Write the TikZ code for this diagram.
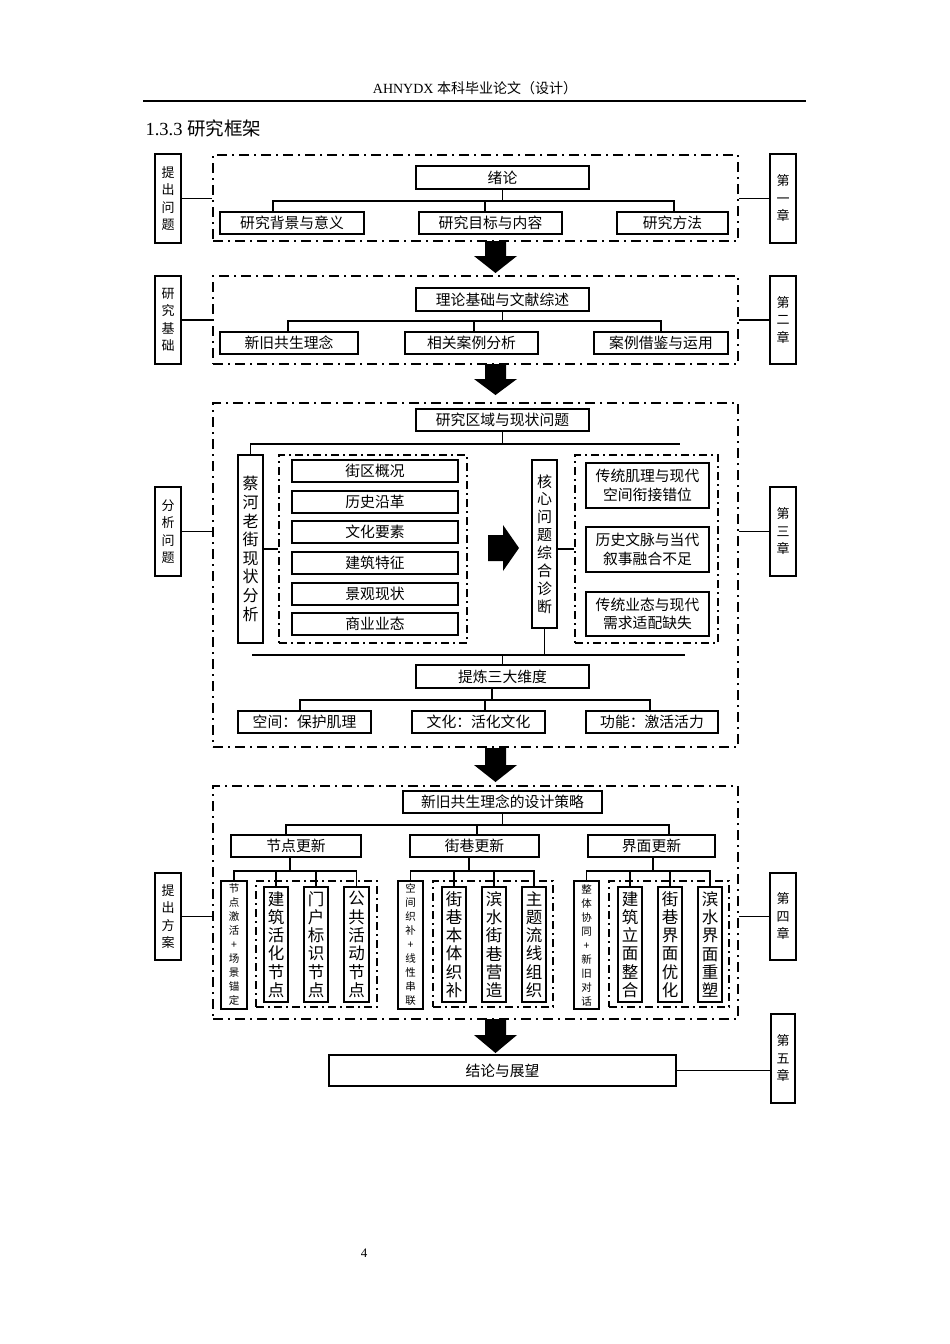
\documentclass[tikz,border=0pt]{standalone}
\usepackage{fontspec}
\setmainfont{Liberation Serif}
\newfontfamily\cjk{Noto Sans CJK SC}
\usetikzlibrary{calc}
\tikzset{
  bx/.style={draw, line width=1.8pt, inner sep=0pt, align=center, font=\cjk\fontsize{14.8}{18.5}\selectfont},
  lab/.style={draw, line width=1.8pt, inner sep=0pt, align=center, font=\cjk\fontsize{13}{17.5}\selectfont},
  vb/.style={draw, line width=1.8pt, inner sep=0pt, align=center, font=\cjk\fontsize{16}{18.6}\selectfont},
  vc/.style={draw, line width=1.8pt, inner sep=0pt, align=center, font=\cjk\fontsize{15}{17.9}\selectfont},
  tv/.style={draw, line width=1.8pt, inner sep=0pt, align=center, font=\cjk\fontsize{16.5}{18.3}\selectfont},
  sv/.style={draw, line width=1.8pt, inner sep=0pt, align=center, font=\cjk\fontsize{10.5}{14}\selectfont},
  dd/.style={draw, line width=1.8pt, inner sep=0pt, dash pattern=on 10pt off 5pt on 2pt off 5pt},
  dd2/.style={draw, line width=1.6pt, inner sep=0pt, dash pattern=on 8pt off 4pt on 2pt off 4pt},
  ln/.style={line width=1.6pt},
}
\newcommand\BX[7][bx]{\node[#1, minimum width={#5pt-#3pt}, minimum height={#6pt-#4pt}] (#2) at ({(#3+#5)/2},{(#4+#6)/2}) {#7};}
\newcommand\DA[3]{\fill (485,#1) -- (506,#1) -- (506,#2) -- (517,#2) -- (495.5,#3) -- (474,#2) -- (485,#2) -- cycle;}
\begin{document}
\begin{tikzpicture}[x=1pt,y=-1pt]
\useasboundingbox (0,0) rectangle (950,1344);
\fill[white] (0,0) rectangle (950,1344);
% header
\node[font=\fontsize{14}{16}\selectfont] (hd) at (475,88) {AHNYDX {\cjk 本科毕业论文（设计）}};
\draw[line width=1.6pt] (143,101) -- (806,101);
\node[anchor=west, font=\fontsize{18.5}{20}\selectfont] (tt) at (142,128) {1.3.3 {\cjk 研究框架}};

% ===== Section 1
\BX[dd]{s1}{213}{155}{738}{241}{}
\BX[lab]{l1}{155}{154}{181}{243}{提\\出\\问\\题}
\BX[lab]{r1}{770}{154}{796}{243}{第\\一\\章}
\BX{a0}{416}{166}{589}{189}{绪论}
\BX{a1}{220}{212}{364}{234}{研究背景与意义}
\BX{a2}{419}{212}{562}{234}{研究目标与内容}
\BX{a3}{617}{212}{728}{234}{研究方法}
\draw[ln] (l1.east) -- (l1.east -| s1.west);
\draw[ln] (s1.east |- r1.west) -- (r1.west);
\coordinate (b1a) at (273,201);
\coordinate (b1m) at (485,201);
\coordinate (b1b) at (674,201);
\draw[ln] (a0.south) -- (a0.south |- b1a);
\draw[ln] (b1a |- a1.north) -- (b1a) -- (b1b) -- (b1b |- a3.north);
\draw[ln] (b1m) -- (b1m |- a2.north);
\DA{241}{256}{273}

% ===== Section 2
\BX[dd]{s2}{213}{276}{738}{364}{}
\BX[lab]{l2}{155}{276}{181}{364}{研\\究\\基\\础}
\BX[lab]{r2}{770}{276}{796}{364}{第\\二\\章}
\BX{b0}{416}{288}{589}{311}{理论基础与文献综述}
\BX{b1}{220}{332}{358}{354}{新旧共生理念}
\BX{b2}{405}{332}{538}{354}{相关案例分析}
\BX{b3}{594}{332}{728}{354}{案例借鉴与运用}
\draw[ln] (l2.east) -- (l2.east -| s2.west);
\draw[ln] (s2.east |- r2.west) -- (r2.west);
\coordinate (b2a) at (288,321);
\coordinate (b2m) at (474,321);
\coordinate (b2b) at (661,321);
\draw[ln] (b0.south) -- (b0.south |- b2a);
\draw[ln] (b2a |- b1.north) -- (b2a) -- (b2b) -- (b2b |- b3.north);
\draw[ln] (b2m) -- (b2m |- b2.north);
\DA{364}{379}{395}

% ===== Section 3
\BX[dd]{s3}{213}{403}{738}{747}{}
\BX[lab]{l3}{155}{487}{181}{576}{分\\析\\问\\题}
\BX[lab]{r3}{770}{487}{796}{576}{第\\三\\章}
\BX{c0}{416}{409}{589}{431}{研究区域与现状问题}
\BX[vb]{cl}{238}{455}{263}{643}{蔡\\河\\老\\街\\现\\状\\分\\析}
\BX[dd2]{ci}{279}{455}{467}{643}{}
\BX{c1}{292}{460}{458}{482}{街区概况}
\BX{c2}{292}{491}{458}{513}{历史沿革}
\BX{c3}{292}{521}{458}{543}{文化要素}
\BX{c4}{292}{552}{458}{574}{建筑特征}
\BX{c5}{292}{583}{458}{605}{景观现状}
\BX{c6}{292}{613}{458}{635}{商业业态}
\BX[vc]{ch}{532}{460}{557}{628}{核\\心\\问\\题\\综\\合\\诊\\断}
\BX[dd2]{cr}{575}{455}{718}{643}{}
\BX{d1}{586}{463}{709}{508}{传统肌理与现代\\空间衔接错位}
\BX{d2}{586}{527}{709}{572}{历史文脉与当代\\叙事融合不足}
\BX{d3}{586}{592}{709}{636}{传统业态与现代\\需求适配缺失}
\BX{c7}{416}{665}{589}{688}{提炼三大维度}
\BX{e1}{238}{711}{371}{733}{空间：保护肌理}
\BX{e2}{412}{711}{545}{733}{文化：活化文化}
\BX{e3}{586}{711}{718}{733}{功能：激活活力}
\draw[ln] (l3.east) -- (l3.east -| s3.west);
\draw[ln] (s3.east |- r3.west) -- (r3.west);
\coordinate (t3b) at (680,444);
\draw[ln] (c0.south) -- (c0.south |- t3b);
\draw[ln] (cl.north) -- (cl.north |- t3b) -- (t3b);
\draw[ln] (cl.east) -- (ci.west);
\draw[ln] (ch.east |- cr.west) -- (cr.west);
\coordinate (u3a) at (252,655);
\coordinate (u3b) at (685,655);
\draw[ln] (ch.south) -- (ch.south |- u3a);
\draw[ln] (u3a) -- (u3b);
\draw[ln] (c7.north) -- (c7.north |- u3a);
\coordinate (v3a) at (300,700);
\coordinate (v3m) at (485,700);
\coordinate (v3b) at (650,700);
\coordinate (v3c) at (492,700);
\draw[ln] (v3c |- c7.south) -- (v3c);
\draw[ln] (v3a |- e1.north) -- (v3a) -- (v3b) -- (v3b |- e3.north);
\draw[ln] (v3m) -- (v3m |- e2.north);
\fill (488,535) -- (503,535) -- (503,525) -- (519,548) -- (503,571) -- (503,561) -- (488,561) -- cycle;
\DA{748}{765}{782}

% ===== Section 4
\BX[dd]{s4}{213}{786}{738}{1019}{}
\BX[lab]{l4}{155}{873}{181}{960}{提\\出\\方\\案}
\BX[lab]{r4}{770}{873}{796}{960}{第\\四\\章}
\BX{f0}{403}{791}{602}{813}{新旧共生理念的设计策略}
\BX{f1}{231}{835}{361}{857}{节点更新}
\BX{f2}{410}{835}{539}{857}{街巷更新}
\BX{f3}{588}{835}{715}{857}{界面更新}
\BX[sv]{g0}{221}{881}{247}{1009}{节\\点\\激\\活\\+\\场\\景\\锚\\定}
\BX[dd2]{gi}{256}{881}{377}{1007}{}
\BX[tv]{g1}{264}{887}{288}{1002}{建\\筑\\活\\化\\节\\点}
\BX[tv]{g2}{304}{887}{328}{1002}{门\\户\\标\\识\\节\\点}
\BX[tv]{g3}{344}{887}{369}{1002}{公\\共\\活\\动\\节\\点}
\BX[sv]{h0}{398}{881}{423}{1009}{空\\间\\织\\补\\+\\线\\性\\串\\联}
\BX[dd2]{hi}{433}{881}{553}{1007}{}
\BX[tv]{h1}{442}{887}{466}{1002}{街\\巷\\本\\体\\织\\补}
\BX[tv]{h2}{482}{887}{506}{1002}{滨\\水\\街\\巷\\营\\造}
\BX[tv]{h3}{522}{887}{546}{1002}{主\\题\\流\\线\\组\\织}
\BX[sv]{k0}{574}{881}{599}{1009}{整\\体\\协\\同\\+\\新\\旧\\对\\话}
\BX[dd2]{ki}{609}{881}{729}{1007}{}
\BX[tv]{k1}{618}{887}{642}{1002}{建\\筑\\立\\面\\整\\合}
\BX[tv]{k2}{658}{887}{682}{1002}{街\\巷\\界\\面\\优\\化}
\BX[tv]{k3}{698}{887}{722}{1002}{滨\\水\\界\\面\\重\\塑}
\draw[ln] (l4.east) -- (l4.east -| s4.west);
\draw[ln] (s4.east |- r4.west) -- (r4.west);
\coordinate (w1) at (286,825);
\coordinate (w2) at (477,825);
\coordinate (w3) at (669,825);
\draw[ln] (f0.south) -- (f0.south |- w1);
\draw[ln] (w1 |- f1.north) -- (w1) -- (w3) -- (w3 |- f3.north);
\draw[ln] (w2) -- (w2 |- f2.north);
\coordinate (x1) at (290,871);
\coordinate (x2) at (469,871);
\coordinate (x3) at (653,871);
\draw[ln] (x1 |- f1.south) -- (x1);
\draw[ln] (g0.north) -- (g0.north |- x1) -- (g3.north |- x1) -- (g3.north);
\draw[ln] (g1.north) -- (g1.north |- x1);
\draw[ln] (g2.north) -- (g2.north |- x1);
\draw[ln] (x2 |- f2.south) -- (x2);
\draw[ln] (h0.north) -- (h0.north |- x2) -- (h3.north |- x2) -- (h3.north);
\draw[ln] (h1.north) -- (h1.north |- x2);
\draw[ln] (h2.north) -- (h2.north |- x2);
\draw[ln] (x3 |- f3.south) -- (x3);
\draw[ln] (k0.north) -- (k0.north |- x3) -- (k3.north |- x3) -- (k3.north);
\draw[ln] (k1.north) -- (k1.north |- x3);
\draw[ln] (k2.north) -- (k2.north |- x3);
\DA{1019}{1035}{1053}

% ===== Section 5
\BX{jl}{329}{1055}{676}{1086}{结论与展望}
\BX[lab]{r5}{771}{1014}{795}{1103}{第\\五\\章}
\draw[ln] (jl.east) -- (jl.east -| r5.west);

% page number
\node[font=\fontsize{13}{15}\selectfont] (pg) at (364,1253) {4};
\end{tikzpicture}
\end{document}
